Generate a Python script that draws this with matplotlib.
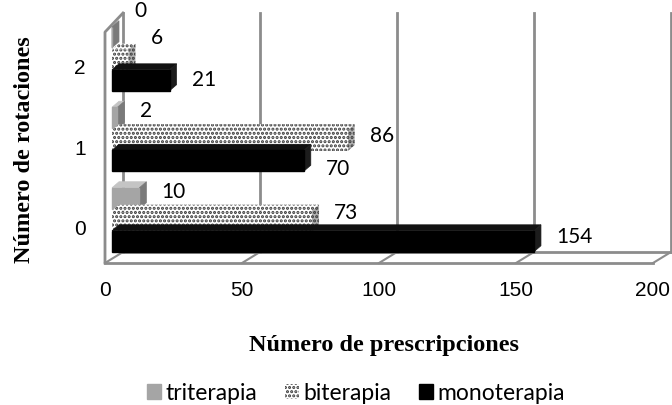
import matplotlib
matplotlib.use("Agg")
import matplotlib.pyplot as plt
from matplotlib.patches import Polygon, Patch
from matplotlib.transforms import ScaledTranslation, IdentityTransform

##############
# data
##############

categories = [0, 1, 2]
series = ['triterapia', 'biterapia', 'monoterapia']
triterapia = [10, 2, 0]
biterapia = [73, 86, 6]
monoterapia = [154, 70, 21]
x_ticks = [0, 50, 100, 150, 200]

# label nudges (px, + = down) so labels sit like in the original
nudge_tri = [-6, -7, -26]
nudge_bi = [-8, -5, -22]
nudge_mono = [-4, 8, 0]

##############
# figure
##############

fig = plt.figure(figsize=(6.72, 4.05), dpi=100)
ax = fig.add_axes([105 / 672, (405 - 263) / 405, 548 / 672, (263 - 24) / 405])
ax.set_xlim(0, 200)
ax.set_ylim(-0.435, 2.534)
for s in ax.spines.values():
    s.set_visible(False)
ax.patch.set_visible(False)

ax.set_xticks(x_ticks)
ax.set_xticklabels([str(t) for t in x_ticks], family='Liberation Sans', fontsize=15)
ax.set_yticks(categories)
ax.set_yticklabels([str(c) for c in categories], family='Liberation Sans', fontsize=15)
ax.tick_params(axis='x', length=0, pad=13)
ax.tick_params(axis='y', length=0, pad=14)

ident = IdentityTransform()
frame_col = '#8c8c8c'
BX, BY = 18, 11   # depth of the back wall in px


def shifted(dx, dy):
    return ax.transData + ScaledTranslation(dx / 100, dy / 100, fig.dpi_scale_trans)


def P(x, y, dx=0, dy=0):
    px, py = ax.transData.transform((x, y))
    return (px + dx, py + dy)


ylo, yhi = ax.get_ylim()

# back wall gridlines + floor diagonals
for v in x_ticks:
    a, b = P(v, ylo, BX, BY), P(v, yhi, BX, BY)
    ax.plot([a[0], b[0]], [a[1], b[1]], color=frame_col, lw=2, transform=ident, clip_on=False, zorder=1)
    c = P(v, ylo)
    ax.plot([c[0], a[0]], [c[1], a[1]], color=frame_col, lw=1.5, transform=ident, clip_on=False, zorder=1)

# floor front edge and back edge
for (dx, dy) in [(0, 0), (BX, BY)]:
    a, b = P(0, ylo, dx, dy), P(200, ylo, dx, dy)
    ax.plot([a[0], b[0]], [a[1], b[1]], color=frame_col, lw=2, transform=ident, clip_on=False, zorder=1)

# left wall
a, b, c = P(0, ylo), P(0, yhi - 0.1), P(0, yhi, BX, BY)
ax.plot([a[0], b[0], c[0]], [a[1], b[1], c[1]], color=frame_col, lw=2, transform=ident, clip_on=False, zorder=1)

##############
# 3d bars
##############

PX, PY = 7, 0     # bar plane offset from front
DX, DY = 7, 6     # bar depth
bar_h = 0.26
bar_tr = shifted(PX, PY)

dots = '#3a3a3a'
specs = [
    (triterapia, 0.37, dict(facecolor='#a5a5a5', edgecolor='#a5a5a5'), '#c4c4c4', '#7a7a7a', None, nudge_tri),
    (biterapia, 0.085, dict(facecolor='white', edgecolor=dots, hatch='....', linewidth=0), 'white', '#b0b0b0', '....', nudge_bi),
    (monoterapia, -0.165, dict(facecolor='black', edgecolor='black'), '#111111', '#1c1c1c', None, nudge_mono),
]

plt.rcParams['hatch.linewidth'] = 1.5

for k, (vals, off, style, top_col, side_col, hatch, nudges) in enumerate(specs):
    z = 3 + k * 2
    ypos = [c + off for c in categories]
    bars = ax.barh(ypos, vals, height=bar_h, transform=bar_tr, clip_on=False, zorder=z + 1, **style)
    for rect in bars:
        bb = rect.get_window_extent()
        x0, y0, x1, y1 = bb.x0, bb.y0, bb.x1, bb.y1
        top = Polygon([(x0, y1), (x1, y1), (x1 + DX, y1 + DY), (x0 + DX, y1 + DY)],
                      closed=True, transform=ident, clip_on=False, zorder=z,
                      facecolor=top_col, edgecolor=style['edgecolor'] if hatch else top_col,
                      hatch=hatch, linewidth=0 if hatch else 0.5)
        side = Polygon([(x1, y0), (x1, y1), (x1 + DX, y1 + DY), (x1 + DX, y0 + DY)],
                       closed=True, transform=ident, clip_on=False, zorder=z,
                       facecolor=side_col, edgecolor=style['edgecolor'] if hatch else side_col,
                       hatch=hatch, linewidth=0 if hatch else 0.5)
        ax.add_patch(top)
        ax.add_patch(side)
    for v, y, n in zip(vals, ypos, nudges):
        ax.annotate(str(v), xy=(v, y), xycoords=bar_tr, xytext=(16, -n * 0.72),
                    textcoords='offset points', ha='left', va='center',
                    family='Lato', fontsize=15, zorder=10, annotation_clip=False)

##############
# titles and legend
##############

fig.text(384 / 672, 1 - 345 / 405, 'Número de prescripciones', ha='center', va='center',
         family='Liberation Serif', fontweight='bold', fontsize=17.5)
fig.text(25 / 672, 1 - 150 / 405, 'Número de rotaciones', ha='center', va='center',
         rotation=90, family='Liberation Serif', fontweight='bold', fontsize=17.5)

handles = [
    Patch(facecolor='#a5a5a5', edgecolor='#a5a5a5'),
    Patch(facecolor='white', edgecolor=dots, hatch='....', linewidth=0),
    Patch(facecolor='black', edgecolor='black'),
]
fig.legend(handles, series, loc='center', bbox_to_anchor=(356 / 672, 1 - 393 / 405), ncol=3,
           frameon=False, prop={'family': 'Lato', 'size': 16.5}, handlelength=0.6,
           handleheight=0.6, handletextpad=0.2, columnspacing=1.2, borderpad=0)

fig.savefig('out.png', dpi=100)
